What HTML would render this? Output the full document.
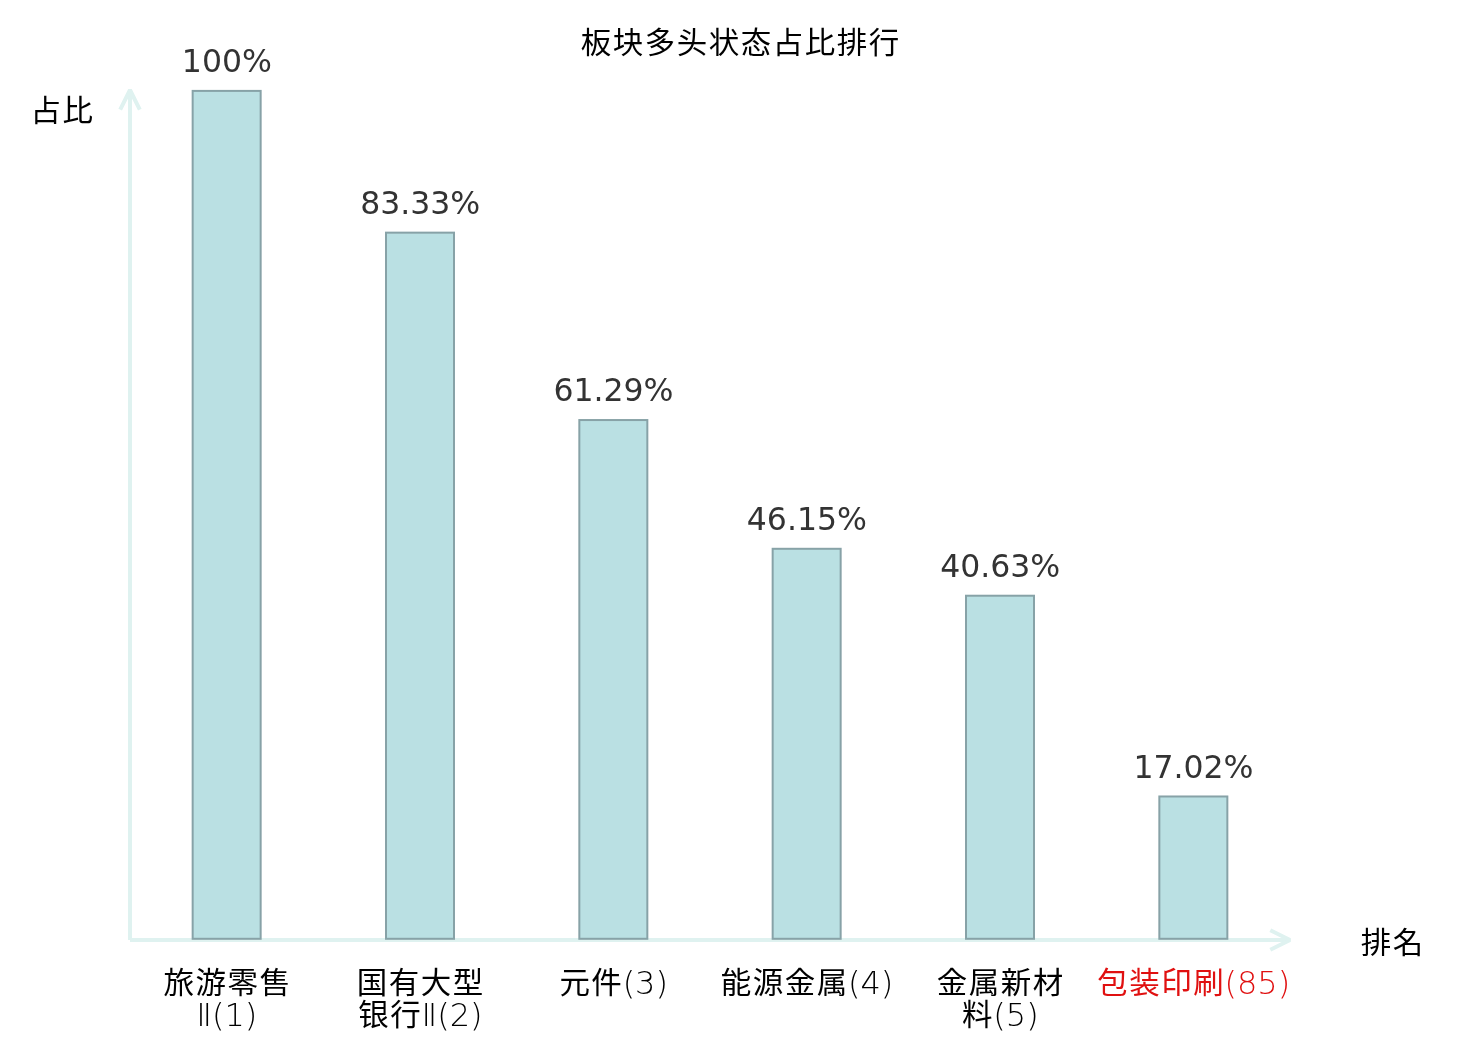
<!DOCTYPE html>
<html>
<head>
<meta charset="utf-8">
<title>板块多头状态占比排行</title>
<style>
html,body{margin:0;padding:0;background:#fff;}
body{width:1480px;height:1040px;position:relative;overflow:hidden;
  font-family:"Liberation Sans","Noto Sans CJK SC",sans-serif;}
#chart{position:absolute;left:0;top:0;width:1480px;height:1040px;}
.t{position:absolute;white-space:nowrap;line-height:32px;font-size:32px;color:#000;
  font-family:"DejaVu Sans","Liberation Sans",sans-serif;font-weight:200;text-align:center;}
.c{font-family:"Liberation Sans","Noto Sans CJK JP","Noto Sans CJK SC",sans-serif;font-weight:400;font-size:30.5px;
  letter-spacing:1.5px;margin-left:0.75px;margin-right:-0.75px;line-height:1px;
  display:inline-block;transform:scaleY(0.98);transform-origin:50% 17px;vertical-align:1px;}
.n{font-family:"DejaVu Sans","Liberation Sans",sans-serif;font-weight:200;font-size:32px;letter-spacing:0;}
.title{left:440px;width:600px;top:26.5px;}
.ylab{left:11.7px;width:100px;top:95.3px;}
.xlab{left:1342px;width:100px;top:927px;}
.pct{font-family:"DejaVu Sans","Liberation Sans",sans-serif;font-weight:400;color:#333;font-size:31.5px;width:200px;margin-left:0.2px;}
.tick{width:220px;line-height:32px;top:967px;}
.red{color:#e01010;}
</style>
</head>
<body>
<svg id="chart" width="1480" height="1040" viewBox="0 0 1480 1040">
  <g fill="none" stroke="#dff2f0" stroke-width="4" stroke-linejoin="bevel" stroke-linecap="butt">
    <path d="M130 940 L130 90"/>
    <path d="M130 940 L1290 940"/>
    <path d="M120.2 109.6 L130 90 L139.8 109.6"/>
    <path d="M1270.3 930.2 L1290 940 L1270.3 949.8"/>
  </g>
  <g fill="#bae0e3" stroke="#87a2a7" stroke-width="2">
    <rect x="192.66" y="90.90" width="68" height="847.90"/>
    <rect x="386.00" y="232.65" width="68" height="706.15"/>
    <rect x="579.33" y="420.05" width="68" height="518.75"/>
    <rect x="772.66" y="548.79" width="68" height="390.01"/>
    <rect x="966.00" y="595.72" width="68" height="343.08"/>
    <rect x="1159.34" y="796.48" width="68" height="142.32"/>
  </g>
</svg>

<div class="t title"><span class="c">板块多头状态占比排行</span></div>
<div class="t ylab"><span class="c">占比</span></div>
<div class="t xlab"><span class="c">排名</span></div>

<div class="t pct" style="left:126.7px;top:45px;">100%</div>
<div class="t pct" style="left:320px;top:187px;">83.33%</div>
<div class="t pct" style="left:513.3px;top:374px;">61.29%</div>
<div class="t pct" style="left:706.7px;top:503px;">46.15%</div>
<div class="t pct" style="left:900px;top:550px;">40.63%</div>
<div class="t pct" style="left:1093.3px;top:751px;">17.02%</div>

<div class="t tick" style="left:116.7px;"><span class="c">旅游零售</span><br><span class="n">Ⅱ(1)</span></div>
<div class="t tick" style="left:310px;"><span class="c">国有大型</span><br><span class="c">银行</span><span class="n">Ⅱ(2)</span></div>
<div class="t tick" style="left:503.3px;"><span class="c">元件</span><span class="n">(3)</span></div>
<div class="t tick" style="left:696.7px;"><span class="c">能源金属</span><span class="n">(4)</span></div>
<div class="t tick" style="left:890px;"><span class="c">金属新材</span><br><span class="c">料</span><span class="n">(5)</span></div>
<div class="t tick red" style="left:1083.3px;"><span class="c">包装印刷</span><span class="n">(85)</span></div>
</body>
</html>
